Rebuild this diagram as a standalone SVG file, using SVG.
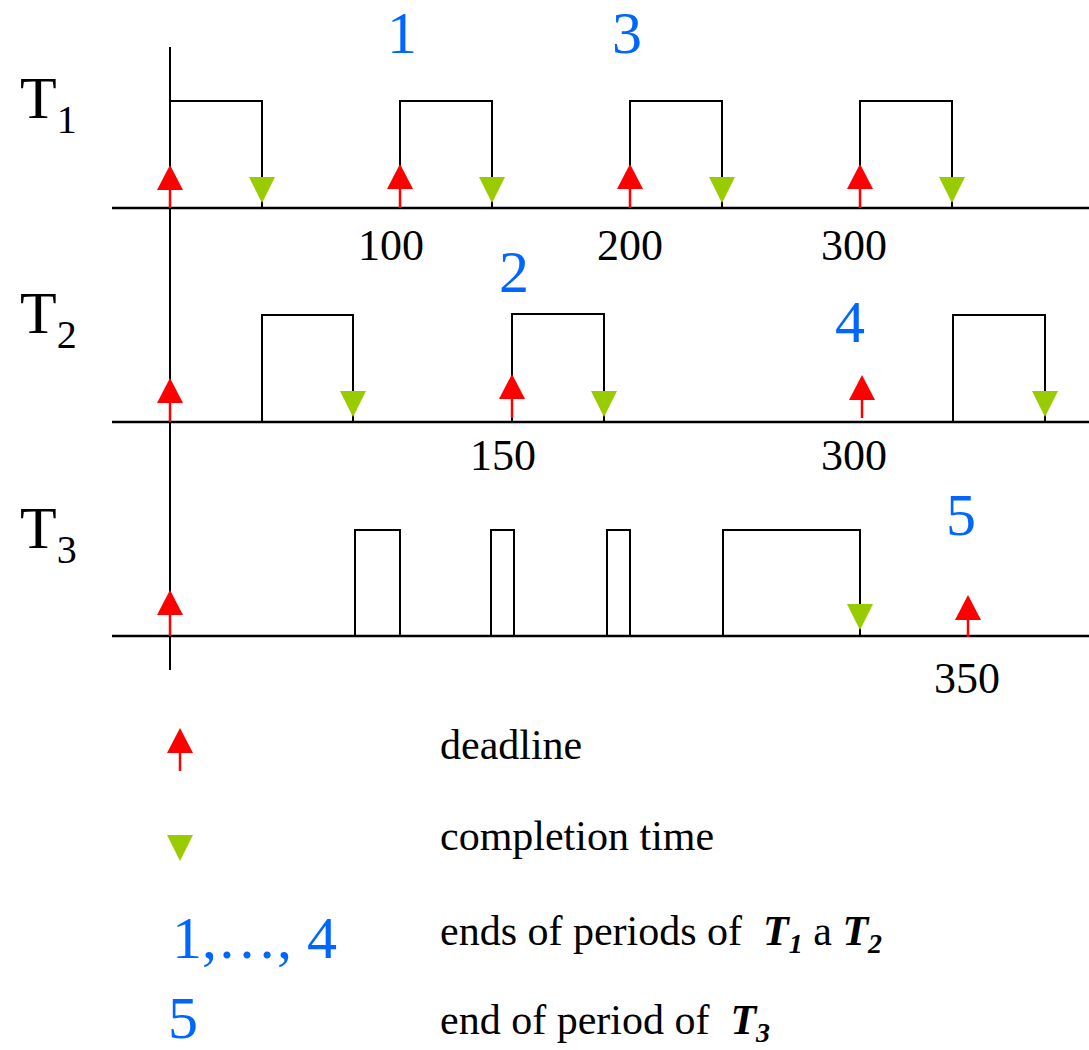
<svg xmlns="http://www.w3.org/2000/svg" width="1089" height="1050" viewBox="0 0 1089 1050" font-family="Liberation Serif, DejaVu Serif, Noto Serif, serif">
<style>
.ax{stroke:#000;stroke-width:2.5;fill:none}
.box{stroke:#000;stroke-width:2;fill:none}
.lbl{fill:#000}
.blue{fill:#0066ff;font-size:60px;text-anchor:middle}
.bluel{fill:#0066ff;font-size:60px;text-anchor:start}
.num{fill:#000;font-size:44px;text-anchor:middle}
.leg{fill:#000;font-size:42px}
.stem{stroke:#ff0000;stroke-width:2.5}
.red{fill:#ff0000}
.grn{fill:#99cc00}
</style>
<defs>
<path id="up" class="red" d="M0,0 L13,25 L-13,25 Z"/>
<path id="dn" class="grn" d="M-13,0 L13,0 L0,26 Z"/>
</defs>
<rect width="1089" height="1050" fill="#fff"/>
<g id="connectors">
<line class="ax" x1="170" y1="47" x2="170" y2="670" style="stroke-width:2"/>
<line class="ax" x1="112" y1="208" x2="1089" y2="208"/>
<line class="ax" x1="112" y1="422" x2="1089" y2="422"/>
<line class="ax" x1="112" y1="636" x2="1089" y2="636"/>
</g>
<g id="T1">
<text class="lbl" x="20" y="118" font-size="60">T<tspan font-size="40" dy="15">1</tspan></text>
<path class="box" d="M170,208 V101 H262 V208 M400,208 V101 H492 V208 M630,208 V101 H722 V208 M860,208 V101 H952 V208"/>
<line class="stem" x1="170" y1="188" x2="170" y2="208"/><use href="#up" x="170" y="165"/>
<line class="stem" x1="400" y1="188" x2="400" y2="208"/><use href="#up" x="400" y="164"/>
<line class="stem" x1="630" y1="188" x2="630" y2="208"/><use href="#up" x="630" y="164"/>
<line class="stem" x1="860" y1="188" x2="860" y2="208"/><use href="#up" x="860" y="164"/>
<use href="#dn" x="262" y="177"/><use href="#dn" x="492" y="177"/><use href="#dn" x="722" y="177"/><use href="#dn" x="952" y="177"/>
<text class="num" x="391" y="260">100</text>
<text class="num" x="630" y="260">200</text>
<text class="num" x="854" y="260">300</text>
<text class="blue" x="402" y="53">1</text>
<text class="blue" x="627" y="53">3</text>
</g>
<g id="T2">
<text class="lbl" x="20" y="333" font-size="60">T<tspan font-size="40" dy="15">2</tspan></text>
<rect class="box" x="262" y="315" width="91" height="107"/>
<rect class="box" x="512" y="314" width="92" height="108"/>
<rect class="box" x="953" y="315" width="92" height="107"/>
<line class="stem" x1="170" y1="401" x2="170" y2="422"/><use href="#up" x="170" y="378"/>
<line class="stem" x1="512" y1="397" x2="512" y2="418"/><use href="#up" x="512" y="374"/>
<line class="stem" x1="862" y1="399" x2="862" y2="418"/><use href="#up" x="862" y="375"/>
<use href="#dn" x="353" y="391"/><use href="#dn" x="604" y="391"/><use href="#dn" x="1045" y="391"/>
<text class="num" x="503" y="470">150</text>
<text class="num" x="854" y="470">300</text>
<text class="blue" x="514" y="292">2</text>
<text class="blue" x="850" y="342">4</text>
</g>
<g id="T3">
<text class="lbl" x="20" y="548" font-size="60">T<tspan font-size="40" dy="15">3</tspan></text>
<rect class="box" x="355" y="530" width="45" height="106"/>
<rect class="box" x="491" y="530" width="23" height="106"/>
<rect class="box" x="607" y="530" width="23" height="106"/>
<path class="box" d="M723,636 V530 H860 V636"/>
<line class="stem" x1="170" y1="614" x2="170" y2="636"/><use href="#up" x="170" y="590"/>
<line class="stem" x1="968" y1="619" x2="968" y2="637"/><use href="#up" x="968" y="595"/>
<use href="#dn" x="860" y="604"/>
<text class="num" x="967" y="693">350</text>
<text class="blue" x="961" y="535">5</text>
</g>
<g id="legend">
<line class="stem" x1="180" y1="751" x2="180" y2="771"/><use href="#up" x="180" y="728"/>
<text class="leg" x="440" y="759">deadline</text>
<use href="#dn" x="180" y="835"/>
<text class="leg" x="440" y="850">completion time</text>
<text class="bluel" x="172" y="958">1,…, 4</text>
<text class="leg" x="440" y="945" xml:space="preserve">ends of periods of  <tspan font-weight="bold" font-style="italic">T<tspan font-size="28" dy="8">1</tspan></tspan><tspan dy="-8"> a </tspan><tspan font-weight="bold" font-style="italic">T<tspan font-size="28" dy="8">2</tspan></tspan></text>
<text class="bluel" x="168" y="1038">5</text>
<text class="leg" x="440" y="1034" xml:space="preserve">end of period of  <tspan font-weight="bold" font-style="italic">T<tspan font-size="28" dy="8">3</tspan></tspan></text>
</g>
</svg>
